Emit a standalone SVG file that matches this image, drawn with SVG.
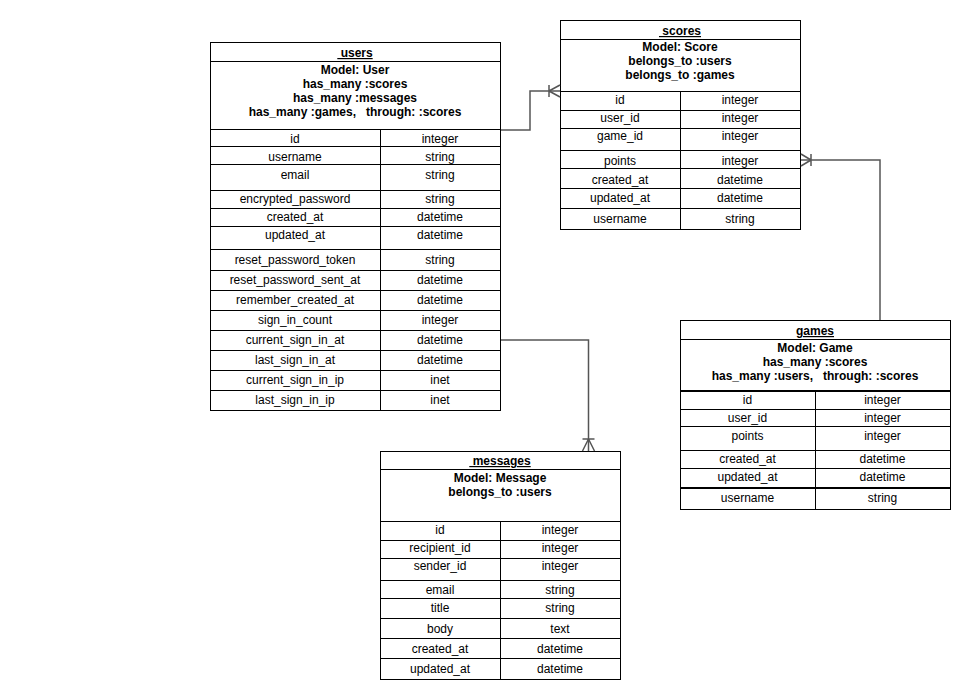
<svg xmlns="http://www.w3.org/2000/svg" width="972" height="699" viewBox="0 0 972 699">
<style>
.box{fill:#fff;stroke:#000;stroke-width:1}
.ln{stroke:#000;stroke-width:1;fill:none}
.thk{stroke:#000;stroke-width:2;fill:none}
text{font-family:"Liberation Sans",Arial,Helvetica,sans-serif;font-size:12px;fill:#000;text-anchor:middle}
.b{font-weight:bold}
.t{font-weight:bold;text-decoration:underline;white-space:pre}
.pre{white-space:pre}
.con{stroke:#555;stroke-width:1.5;fill:none}
</style>
<rect width="972" height="699" fill="#fff"/>

<g id="users">
<rect class="box" x="210.5" y="42.5" width="290" height="368"/>
<path class="ln" d="M210.5 61.5H500.5M210.5 129.5H500.5M380.5 129.5V410.5M210.5 146.5H500.5M210.5 164.5H500.5M210.5 190.5H500.5M210.5 208.5H500.5M210.5 226.5H500.5M210.5 249.5H500.5M210.5 270.5H500.5M210.5 290.5H500.5M210.5 310.5H500.5M210.5 330.5H500.5M210.5 350.5H500.5M210.5 370.5H500.5M210.5 390.5H500.5"/>
<text class="t" x="355" y="57">&#160;users</text>
<text class="b" x="355" y="74">Model: User</text>
<text class="b" x="355" y="88">has_many :scores</text>
<text class="b" x="355" y="102">has_many :messages</text>
<text class="b pre" x="355" y="116">has_many :games,   through: :scores</text>
<text x="295" y="143">id</text><text x="440" y="143">integer</text>
<text x="295" y="161">username</text><text x="440" y="161">string</text>
<text x="295" y="179">email</text><text x="440" y="179">string</text>
<text x="295" y="203">encrypted_password</text><text x="440" y="203">string</text>
<text x="295" y="221">created_at</text><text x="440" y="221">datetime</text>
<text x="295" y="239">updated_at</text><text x="440" y="239">datetime</text>
<text x="295" y="264">reset_password_token</text><text x="440" y="264">string</text>
<text x="295" y="284">reset_password_sent_at</text><text x="440" y="284">datetime</text>
<text x="295" y="304">remember_created_at</text><text x="440" y="304">datetime</text>
<text x="295" y="324">sign_in_count</text><text x="440" y="324">integer</text>
<text x="295" y="344">current_sign_in_at</text><text x="440" y="344">datetime</text>
<text x="295" y="364">last_sign_in_at</text><text x="440" y="364">datetime</text>
<text x="295" y="384">current_sign_in_ip</text><text x="440" y="384">inet</text>
<text x="295" y="404">last_sign_in_ip</text><text x="440" y="404">inet</text>
</g>

<g id="scores">
<rect class="box" x="560.5" y="20.5" width="240" height="209"/>
<path class="ln" d="M560.5 39.5H800.5M560.5 91.5H800.5M680.5 91.5V229.5M560.5 110.5H800.5M560.5 128.5H800.5M560.5 150.5H800.5M560.5 168.5H800.5M560.5 188.5H800.5M560.5 208.5H800.5"/>
<text class="t" x="680" y="35">&#160;scores</text>
<text class="b" x="680" y="51">Model: Score</text>
<text class="b" x="680" y="65">belongs_to :users</text>
<text class="b" x="680" y="79">belongs_to :games</text>
<text x="620" y="104">id</text><text x="740" y="104">integer</text>
<text x="620" y="122">user_id</text><text x="740" y="122">integer</text>
<text x="620" y="140">game_id</text><text x="740" y="140">integer</text>
<text x="620" y="165">points</text><text x="740" y="165">integer</text>
<text x="620" y="184">created_at</text><text x="740" y="184">datetime</text>
<text x="620" y="202">updated_at</text><text x="740" y="202">datetime</text>
<text x="620" y="223">username</text><text x="740" y="223">string</text>
</g>

<g id="games">
<rect class="box" x="680.5" y="320.5" width="270" height="189"/>
<path class="ln" d="M680.5 339.5H950.5M815.5 390.5V509.5M680.5 409.5H950.5M680.5 426.5H950.5M680.5 450.5H950.5M680.5 468.5H950.5"/>
<path class="thk" d="M680.5 391H950.5M680.5 488H950.5"/>
<text class="t" x="815" y="335">games</text>
<text class="b" x="815" y="352">Model: Game</text>
<text class="b" x="815" y="366">has_many :scores</text>
<text class="b pre" x="815" y="380">has_many :users,   through: :scores</text>
<text x="747.5" y="404">id</text><text x="882.5" y="404">integer</text>
<text x="747.5" y="422">user_id</text><text x="882.5" y="422">integer</text>
<text x="747.5" y="440">points</text><text x="882.5" y="440">integer</text>
<text x="747.5" y="463">created_at</text><text x="882.5" y="463">datetime</text>
<text x="747.5" y="481">updated_at</text><text x="882.5" y="481">datetime</text>
<text x="747.5" y="502">username</text><text x="882.5" y="502">string</text>
</g>

<g id="messages">
<rect class="box" x="380.5" y="451.5" width="240" height="228"/>
<path class="ln" d="M380.5 469.5H620.5M380.5 521.5H620.5M500.5 521.5V679.5M380.5 540.5H620.5M380.5 558.5H620.5M380.5 580.5H620.5M380.5 598.5H620.5M380.5 618.5H620.5M380.5 638.5H620.5M380.5 658.5H620.5"/>
<text class="t" x="500" y="465">&#160;messages</text>
<text class="b" x="500" y="482">Model: Message</text>
<text class="b" x="500" y="496">belongs_to :users</text>
<text x="440" y="534">id</text><text x="560" y="534">integer</text>
<text x="440" y="552">recipient_id</text><text x="560" y="552">integer</text>
<text x="440" y="570">sender_id</text><text x="560" y="570">integer</text>
<text x="440" y="594">email</text><text x="560" y="594">string</text>
<text x="440" y="612">title</text><text x="560" y="612">string</text>
<text x="440" y="633">body</text><text x="560" y="633">text</text>
<text x="440" y="653">created_at</text><text x="560" y="653">datetime</text>
<text x="440" y="673">updated_at</text><text x="560" y="673">datetime</text>
</g>

<g id="connectors">
<path class="con" d="M501 130H530V91H560"/>
<path class="con" d="M549 85V97M549 91L560 85M549 91L560 97"/>
<path class="con" d="M880 320V160H801"/>
<path class="con" d="M811 154V166M811 160L801 154M811 160L801 166"/>
<path class="con" d="M501 340H588.5V451"/>
<path class="con" d="M582.5 439H594.5M588.5 439L582.5 451M588.5 439L594.5 451"/>
</g>
</svg>
